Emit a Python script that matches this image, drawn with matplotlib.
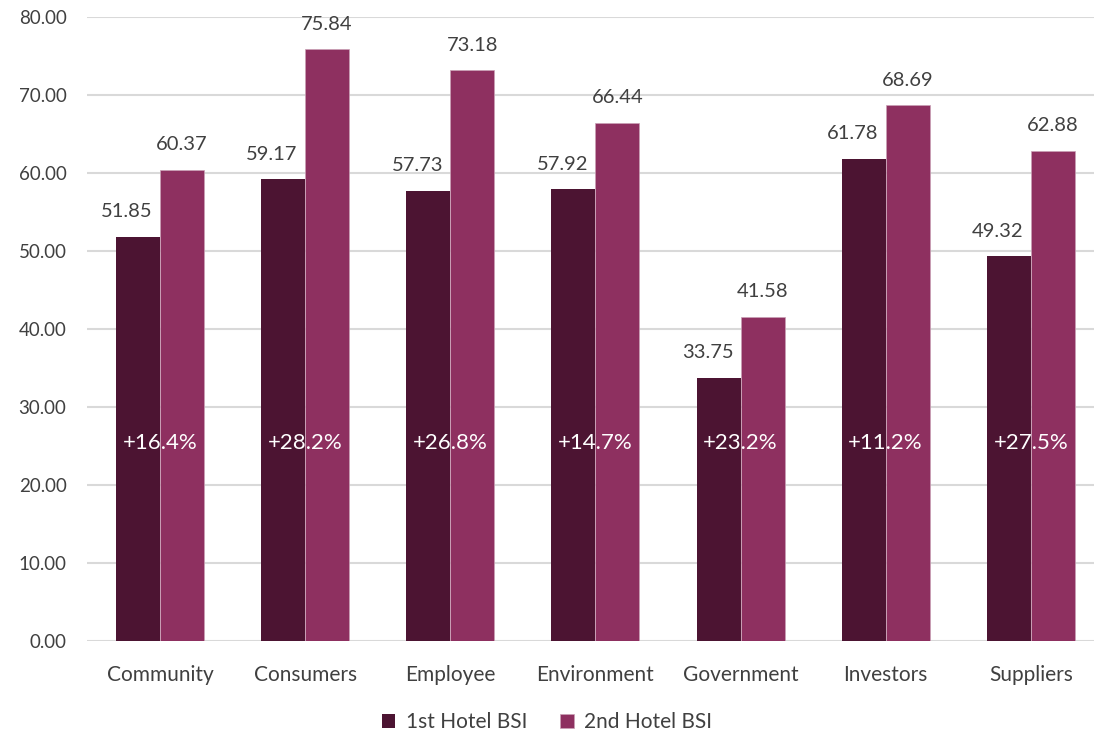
import matplotlib
matplotlib.use("Agg")
import matplotlib.pyplot as plt
import numpy as np

plt.rcParams['font.family'] = ['Lato', 'DejaVu Sans']

categories = ['Community', 'Consumers', 'Employee', 'Environment', 'Government', 'Investors', 'Suppliers']
first_bsi = [51.85, 59.17, 57.73, 57.92, 33.75, 61.78, 49.32]
second_bsi = [60.37, 75.84, 73.18, 66.44, 41.58, 68.69, 62.88]
growth = ['+16.4%', '+28.2%', '+26.8%', '+14.7%', '+23.2%', '+11.2%', '+27.5%']

dark = '#4C1432'
pink = '#8E3060'
txt = '#404040'

fig = plt.figure(figsize=(10.94, 7.34), dpi=100)
ax = fig.add_axes([87.4 / 1094, (734 - 641) / 734, 1016 / 1094, 624 / 734])

x = np.arange(len(categories))
w = 0.303
b1 = ax.bar(x - w / 2, first_bsi, w, color=dark, label='1st Hotel BSI', zorder=2)
b2 = ax.bar(x + w / 2, second_bsi, w, color=pink, label='2nd Hotel BSI', zorder=2,
            edgecolor='#c9a0b5', linewidth=0.5)

# labels of the first series sit a little left of their bars
for xi, v in zip(x, first_bsi):
    ax.annotate(f'{v:.2f}', (xi - w / 2, v), xytext=(-8, 12), textcoords='offset points',
                ha='center', va='bottom', fontsize=14.5, color=txt)
for xi, v in zip(x, second_bsi):
    ax.annotate(f'{v:.2f}', (xi + w / 2, v), xytext=(0, 12), textcoords='offset points',
                ha='center', va='bottom', fontsize=14.5, color=txt)
for xi, g in zip(x, growth):
    ax.text(xi, 25.4, g, ha='center', va='center', fontsize=16, color='white', zorder=3)

ax.set_xlim(-0.5, len(categories) - 0.5)
ax.set_ylim(0, 80)
ax.set_yticks(np.arange(0, 81, 10))
ax.set_yticklabels([f'{t:.2f}' for t in np.arange(0, 81, 10)])
ax.set_xticks(x)
ax.set_xticklabels(categories)
ax.tick_params(axis='both', length=0, labelsize=14, colors=txt)
ax.tick_params(axis='x', pad=17, labelsize=15)
ax.tick_params(axis='y', pad=15, labelsize=13.5)
ax.grid(axis='y', color='#d9d9d9', linewidth=1.5, zorder=0)
for s in ax.spines.values():
    s.set_visible(False)

fig.legend(handles=[b1, b2], loc='center', bbox_to_anchor=(0.5, 1 - 722 / 734), ncol=2,
           frameon=False, fontsize=15, labelcolor=txt, handlelength=0.65, handleheight=0.65,
           columnspacing=1.6, handletextpad=0.5)

fig.savefig('out.png', dpi=100)
